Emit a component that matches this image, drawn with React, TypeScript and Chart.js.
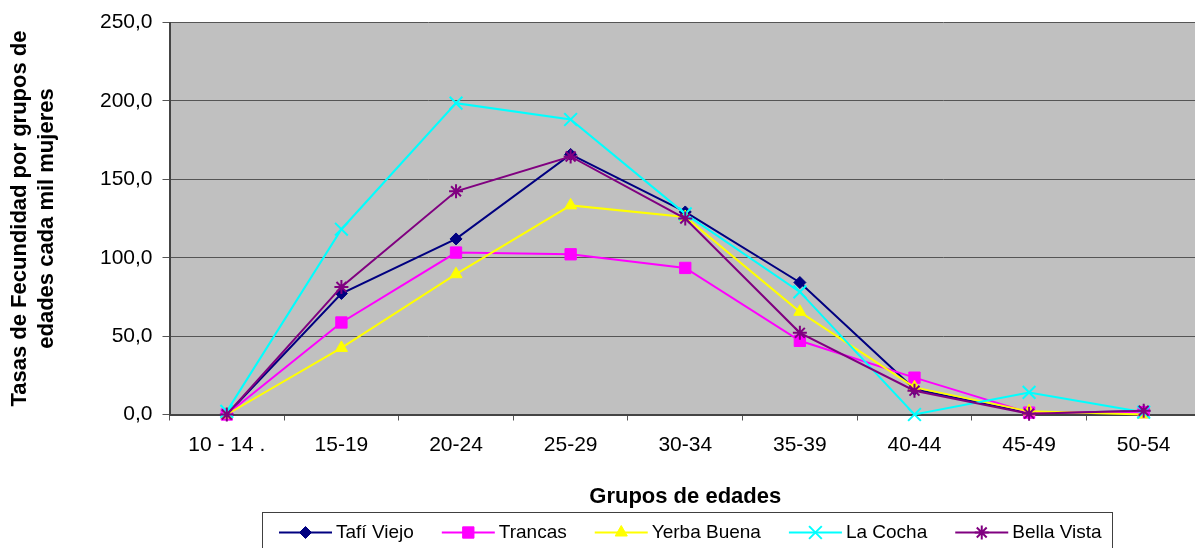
import React, { useEffect, useRef } from 'react';
import { Chart, registerables } from 'chart.js';
import { drawPoint } from 'chart.js/helpers';

Chart.register(...registerables);

const categories = ['10 - 14 .', '15-19', '20-24', '25-29', '30-34', '35-39', '40-44', '45-49', '50-54'];

const tafiViejo = [0, 77.2, 112.0, 165.9, 129.2, 84.2, 16.2, 1.0, 2.0];
const trancas = [0, 58.7, 103.3, 102.2, 93.5, 47.0, 23.5, 1.2, 1.5];
const yerbaBuena = [0, 42.5, 89.5, 133.4, 126.0, 65.5, 17.3, 2.0, 0];
const laCocha = [2.0, 118.2, 198.6, 188.2, 128.0, 78.2, 0, 14.1, 1.5];
const bellaVista = [0, 81.4, 142.4, 164.6, 125.0, 52.1, 15.2, 0.5, 2.4];

const seriesNames = ['Tafí Viejo', 'Trancas', 'Yerba Buena', 'La Cocha', 'Bella Vista'];
const seriesColors = ['#000080', '#FF00FF', '#FFFF00', '#00FFFF', '#800080'];
const seriesStyles = ['rectRot', 'rect', 'triangle', 'crossRot', 'star'];
const seriesRadii = [6, 8, 7, 9, 7];

const yMin = 0;
const yMax = 250;
const yStep = 50;

const xTitle = 'Grupos de edades';
const yTitle = ['Tasas de Fecundidad por grupos de', 'edades cada mil mujeres'];

const FONT = '"Liberation Sans", Arial, sans-serif';

const bgPlugin = {
  id: 'plotBg',
  beforeDraw(chart: any) {
    const { ctx, chartArea } = chart;
    ctx.save();
    ctx.fillStyle = '#C0C0C0';
    ctx.fillRect(chartArea.left, chartArea.top, chartArea.right - chartArea.left, chartArea.bottom - chartArea.top);
    ctx.restore();
  },
};

const legendPlugin = {
  id: 'excelLegend',
  afterDraw(chart: any) {
    const ctx = chart.ctx;
    ctx.save();
    ctx.strokeStyle = '#404040';
    ctx.lineWidth = 1;
    ctx.strokeRect(262.5, 512.5, 850, 60);
    ctx.font = `19px ${FONT}`;
    ctx.textBaseline = 'middle';
    ctx.textAlign = 'left';
    let x = 279;
    const y = 532.5;
    chart.data.datasets.forEach((ds: any) => {
      ctx.strokeStyle = ds.borderColor;
      ctx.lineWidth = 2;
      ctx.beginPath();
      ctx.moveTo(x, y);
      ctx.lineTo(x + 53, y);
      ctx.stroke();
      ctx.fillStyle = ds.pointBackgroundColor;
      ctx.strokeStyle = ds.pointBorderColor;
      ctx.lineWidth = ds.pointBorderWidth;
      drawPoint(ctx, { pointStyle: ds.pointStyle, radius: ds.pointRadius, borderWidth: ds.pointBorderWidth, rotation: 0 } as any, x + 26.5, y);
      ctx.fillStyle = '#000';
      ctx.fillText(ds.label, x + 57, y);
      x += 57 + ctx.measureText(ds.label).width + 28;
    });
    ctx.restore();
  },
};

export default function App() {
  const ref = useRef<HTMLCanvasElement | null>(null);

  useEffect(() => {
    if (!ref.current) return;
    const values = [tafiViejo, trancas, yerbaBuena, laCocha, bellaVista];
    const chart = new Chart(ref.current, {
      type: 'line',
      data: {
        labels: categories,
        datasets: values.map((v, i) => ({
          label: seriesNames[i],
          data: v,
          borderColor: seriesColors[i],
          backgroundColor: seriesColors[i],
          borderWidth: 2,
          pointStyle: seriesStyles[i] as any,
          pointRadius: seriesRadii[i],
          pointBackgroundColor: seriesColors[i],
          pointBorderColor: seriesColors[i],
          pointBorderWidth: seriesStyles[i] === 'crossRot' || seriesStyles[i] === 'star' ? 2 : 1,
          pointHoverRadius: seriesRadii[i],
          tension: 0,
          fill: false,
          clip: false as any,
          order: values.length - i,
        })),
      },
      options: {
        responsive: false,
        animation: false,
        events: [],
        layout: { padding: { top: 22, right: 4, left: 0, bottom: 0 } },
        plugins: {
          legend: { display: false },
          tooltip: { enabled: false },
        },
        scales: {
          x: {
            offset: true,
            grid: {
              offset: true,
              drawOnChartArea: false,
              drawTicks: true,
              tickLength: 6,
              color: '#555555',
              lineWidth: 1,
            },
            border: { display: true, color: '#444444', width: 2 },
            ticks: {
              color: '#000',
              font: { family: FONT, size: 21 },
              padding: 12,
              maxRotation: 0,
              autoSkip: false,
            },
            title: {
              display: true,
              text: xTitle,
              color: '#000',
              font: { family: FONT, size: 22, weight: 'bold' },
              padding: { top: 0, bottom: 38 },
            },
            afterFit(scale: any) {
              scale.height = 548 - 414.5;
            },
          },
          y: {
            min: yMin,
            max: yMax,
            grid: {
              color: '#555555',
              lineWidth: 1,
              drawTicks: true,
              tickLength: 7,
            },
            border: { display: true, color: '#444444', width: 2 },
            ticks: {
              stepSize: yStep,
              color: '#000',
              font: { family: FONT, size: 21 },
              padding: 10,
              callback: (v: any) => Number(v).toFixed(1).replace('.', ','),
            },
            title: {
              display: true,
              text: yTitle,
              color: '#000',
              font: { family: FONT, size: 22, weight: 'bold', lineHeight: 1.25 },
              padding: { top: 6, bottom: 0 },
            },
            afterFit(scale: any) {
              scale.width = 169.5;
            },
          },
        },
      },
      plugins: [bgPlugin, legendPlugin],
    });
    return () => chart.destroy();
  }, []);

  return (
    <div style={{ position: 'fixed', left: 0, top: 0, width: 1195, height: 548, overflow: 'hidden', background: '#fff' }}>
      <canvas ref={ref} width={1212} height={548} style={{ display: 'block' }} />
    </div>
  );
}
